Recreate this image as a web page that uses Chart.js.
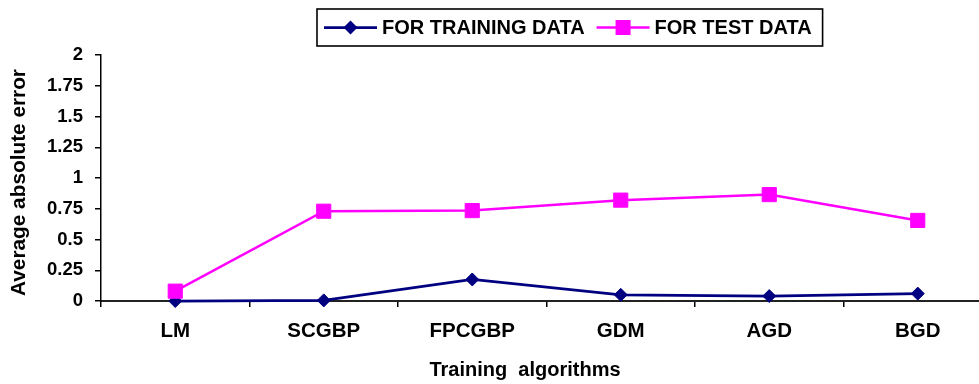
<!DOCTYPE html>
<html>
<head>
<meta charset="utf-8">
<script src="https://cdn.jsdelivr.net/npm/chart.js@4.4.1/dist/chart.umd.min.js"></script>
<style>
  html, body { margin: 0; padding: 0; background: #fff; overflow: hidden; }
  canvas { display: block; }
</style>
</head>
<body>
<canvas id="c" width="1003" height="384"></canvas>
<script>
// Training algorithms compared
const algorithms = ['LM', 'SCGBP', 'FPCGBP', 'GDM', 'AGD', 'BGD'];
// Average absolute error per algorithm
const trainingError = [0.0, 0.005, 0.175, 0.05, 0.04, 0.06];
const testError = [0.08, 0.73, 0.735, 0.82, 0.865, 0.655];
// Y axis ticks
const yTickValues = [0, 0.25, 0.5, 0.75, 1, 1.25, 1.5, 1.75, 2];
const yTickLabels = ['0', '0.25', '0.5', '0.75', '1', '1.25', '1.5', '1.75', '2'];
// Axis captions
const xCaption = 'Training  algorithms';
const yCaption = 'Average absolute error';

const FONT = 'Liberation Sans, Arial, sans-serif';
const NAVY = '#000080';
const MAGENTA = '#FF00FF';

// Axis captions placed beside the plot
const axisCaptions = {
  id: 'axisCaptions',
  afterDraw(chart) {
    const ctx = chart.ctx;
    ctx.save();
    ctx.fillStyle = '#000';
    ctx.textAlign = 'center';
    ctx.textBaseline = 'alphabetic';
    ctx.font = 'bold 20px ' + FONT;
    ctx.fillText(xCaption, 525, 375.5);
    ctx.translate(24.5, 182.5);
    ctx.rotate(-Math.PI / 2);
    ctx.font = 'bold 20.8px ' + FONT;
    ctx.fillText(yCaption, 0, 0);
    ctx.restore();
  }
};

// Boxed legend drawn above the plot
const boxedLegend = {
  id: 'boxedLegend',
  afterDraw(chart) {
    const ctx = chart.ctx;
    const items = chart.data.datasets.slice().sort((a, b) => a.legendIndex - b.legendIndex);
    ctx.save();
    ctx.font = 'bold 20px ' + FONT;
    ctx.textBaseline = 'middle';
    const boxLeft = 317, boxTop = 9, boxH = 37;
    const cy = boxTop + boxH / 2;
    let x = boxLeft + 7;
    items.forEach((ds, i) => {
      // sample line
      ctx.strokeStyle = ds.borderColor;
      ctx.lineWidth = ds.borderWidth;
      ctx.beginPath();
      ctx.moveTo(x, cy);
      ctx.lineTo(x + 53, cy);
      ctx.stroke();
      // marker
      const mx = x + 26.5;
      ctx.fillStyle = ds.pointBackgroundColor;
      ctx.beginPath();
      if (ds.pointStyle === 'rectRot') {
        const r = 7;
        ctx.moveTo(mx, cy - r); ctx.lineTo(mx + r, cy); ctx.lineTo(mx, cy + r); ctx.lineTo(mx - r, cy);
        ctx.closePath();
      } else {
        ctx.rect(mx - 7.5, cy - 7.5, 15, 15);
      }
      ctx.fill();
      x += 58;
      ctx.fillStyle = '#000';
      ctx.fillText(ds.label, x, cy + 1);
      x += ctx.measureText(ds.label).width + (i < items.length - 1 ? 12 : 11);
    });
    ctx.strokeStyle = '#000';
    ctx.lineWidth = 1.6;
    ctx.strokeRect(boxLeft, boxTop, x - boxLeft, boxH);
    ctx.restore();
  }
};

new Chart(document.getElementById('c'), {
  type: 'line',
  data: {
    labels: algorithms,
    datasets: [
      {
        label: 'FOR TRAINING DATA',
        legendIndex: 0,
        data: trainingError,
        borderColor: NAVY,
        backgroundColor: NAVY,
        pointBackgroundColor: NAVY,
        pointBorderColor: NAVY,
        borderWidth: 2.75,
        pointStyle: 'rectRot',
        pointRadius: 6.5,
        pointBorderWidth: 1,
        tension: 0,
        clip: false,
        order: 1
      },
      {
        label: 'FOR TEST DATA',
        legendIndex: 1,
        data: testError,
        borderColor: MAGENTA,
        backgroundColor: MAGENTA,
        pointBackgroundColor: MAGENTA,
        pointBorderColor: MAGENTA,
        borderWidth: 2.5,
        pointStyle: 'rect',
        pointRadius: 10,
        pointBorderWidth: 1,
        tension: 0,
        clip: false,
        order: 0
      }
    ]
  },
  options: {
    responsive: false,
    animation: false,
    devicePixelRatio: 1,
    layout: { padding: { top: 55, right: 2, left: 0, bottom: 0 } },
    plugins: {
      legend: { display: false },
      tooltip: { enabled: false }
    },
    scales: {
      x: {
        type: 'category',
        offset: true,
        grid: {
          offset: true,
          drawOnChartArea: false,
          drawTicks: true,
          tickLength: 6,
          color: '#000',
          lineWidth: 1.5
        },
        border: { display: true, color: '#222', width: 2 },
        ticks: {
          color: '#000',
          font: { family: FONT, size: 20.5, weight: 'bold' },
          padding: 12,
          maxRotation: 0,
          autoSkip: false
        },
        title: { display: false },
        afterFit(scale) { scale.height = 83; }
      },
      y: {
        min: 0,
        max: 2,
        afterBuildTicks(scale) { scale.ticks = yTickValues.map(v => ({ value: v })); },
        grid: {
          drawOnChartArea: false,
          drawTicks: true,
          tickLength: 6,
          color: '#000',
          lineWidth: 1.5
        },
        border: { display: true, color: '#000', width: 1.5 },
        ticks: {
          color: '#000',
          font: { family: FONT, size: 18.5, weight: 'bold' },
          padding: 12,
          callback: (v, i) => yTickLabels[i]
        },
        title: { display: false },
        afterFit(scale) { scale.width = 101; }
      }
    }
  },
  plugins: [boxedLegend, axisCaptions]
});
</script>
</body>
</html>
